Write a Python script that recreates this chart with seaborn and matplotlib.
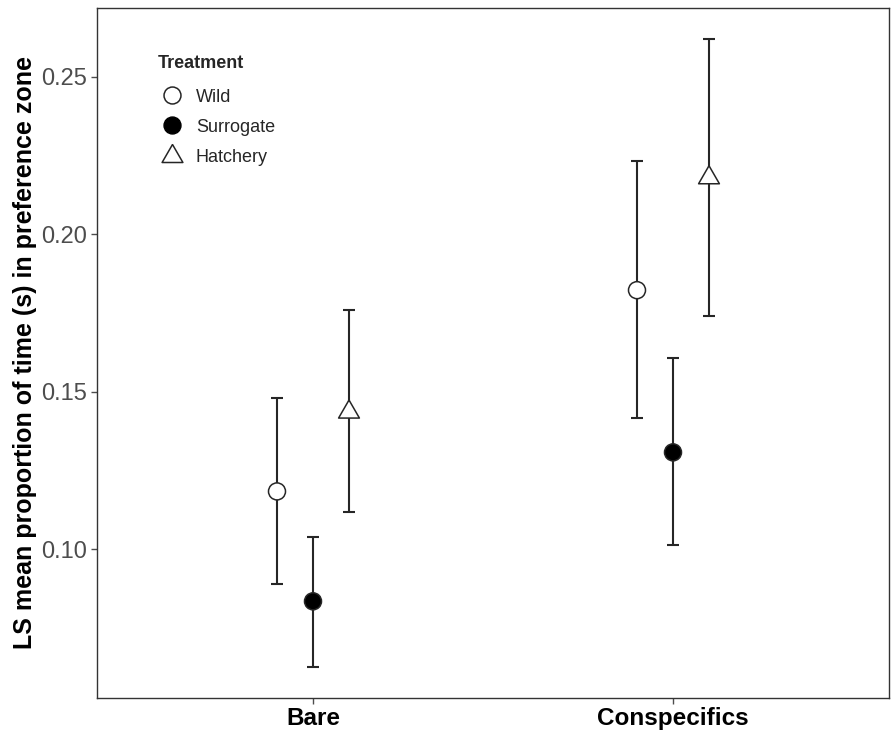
import matplotlib
matplotlib.use("Agg")
import matplotlib.pyplot as plt
import seaborn as sns
import pandas as pd
import numpy as np
from matplotlib.lines import Line2D

sns.set_theme(style="white")
plt.rcParams['font.family'] = ['Liberation Sans', 'DejaVu Sans']

habitats = ["Bare", "Conspecifics"]
treatments = ["Wild", "Surrogate", "Hatchery"]
means = {"Wild": [0.1184, 0.1823], "Surrogate": [0.0835, 0.1308], "Hatchery": [0.1436, 0.2180]}
lower = {"Wild": [0.0889, 0.1416], "Surrogate": [0.0628, 0.1013], "Hatchery": [0.1118, 0.1740]}
upper = {"Wild": [0.1480, 0.2233], "Surrogate": [0.1038, 0.1607], "Hatchery": [0.1760, 0.2620]}
yticks = [0.10, 0.15, 0.20, 0.25]

dodge = {"Wild": -0.1, "Surrogate": 0.0, "Hatchery": 0.1}
rows = []
for t in treatments:
    for i, h in enumerate(habitats):
        rows.append(dict(Habitat=h, Treatment=t, x=i + dodge[t],
                         mean=means[t][i], lo=lower[t][i], hi=upper[t][i]))
df = pd.DataFrame(rows)

# equilateral triangle marker (ggplot shape 2 style), centred on centroid
tri = [(0, 1.0), (-0.866, -0.5), (0.866, -0.5), (0, 1.0)]

fig = plt.figure(figsize=(8.91, 7.34), dpi=100)
ax = fig.add_axes([97/891, 1 - 697.5/734, (889-97)/891, (697.5-8)/734])

ecol = "#262626"
for t in treatments:
    d = df[df.Treatment == t]
    ax.errorbar(d.x, d["mean"], yerr=[d["mean"] - d.lo, d.hi - d["mean"]],
                fmt="none", ecolor=ecol, elinewidth=1.5, capsize=4.4, capthick=1.5, zorder=2)

sns.scatterplot(data=df, x="x", y="mean", hue="Treatment", style="Treatment",
                size="Treatment",
                hue_order=treatments, style_order=treatments, size_order=treatments,
                markers={"Wild": "o", "Surrogate": "o", "Hatchery": tri},
                sizes={"Wild": 150, "Surrogate": 150, "Hatchery": 300},
                palette={"Wild": "white", "Surrogate": "black", "Hatchery": "white"},
                edgecolor=ecol, linewidth=1.1, ax=ax, zorder=3, legend=False)

ax.set_xlim(-0.6, 1.6)
ax.set_ylim(0.05296, 0.2719)
ax.set_xticks(range(len(habitats)))
ax.set_xticklabels(habitats, fontsize=17.5, fontweight="bold", color="black")
ax.set_yticks(yticks)
ax.set_yticklabels([f"{v:.2f}" for v in yticks], fontsize=17, color="#4d4d4d")
ax.set_xlabel("")
ax.set_ylabel("LS mean proportion of time (s) in preference zone", fontsize=18,
              fontweight="bold", color="black", labelpad=3)
ax.tick_params(axis="both", length=4, width=1, color="#4d4d4d", bottom=True, left=True, pad=3)
for sp in ax.spines.values():
    sp.set_color("#333333")
    sp.set_linewidth(1.0)

handles = [
    Line2D([], [], ls="none", marker="o", markersize=12.2, markerfacecolor="white", markeredgecolor=ecol, markeredgewidth=1.1),
    Line2D([], [], ls="none", marker="o", markersize=12.2, markerfacecolor="black", markeredgecolor="black"),
    Line2D([], [], ls="none", marker=tri, markersize=17.3, markerfacecolor="white", markeredgecolor=ecol, markeredgewidth=1.1),
]
leg = ax.legend(handles, treatments, title="Treatment", loc="upper left",
                bbox_to_anchor=(0.077, 0.932), frameon=False, fontsize=13,
                title_fontproperties={"weight": "bold", "size": 13},
                handletextpad=0.5, labelspacing=0.73, borderaxespad=0, borderpad=0,
                handlelength=1.6)
leg._legend_box.align = "left"
leg._legend_box.sep = 12

fig.savefig("out.png", dpi=100)
